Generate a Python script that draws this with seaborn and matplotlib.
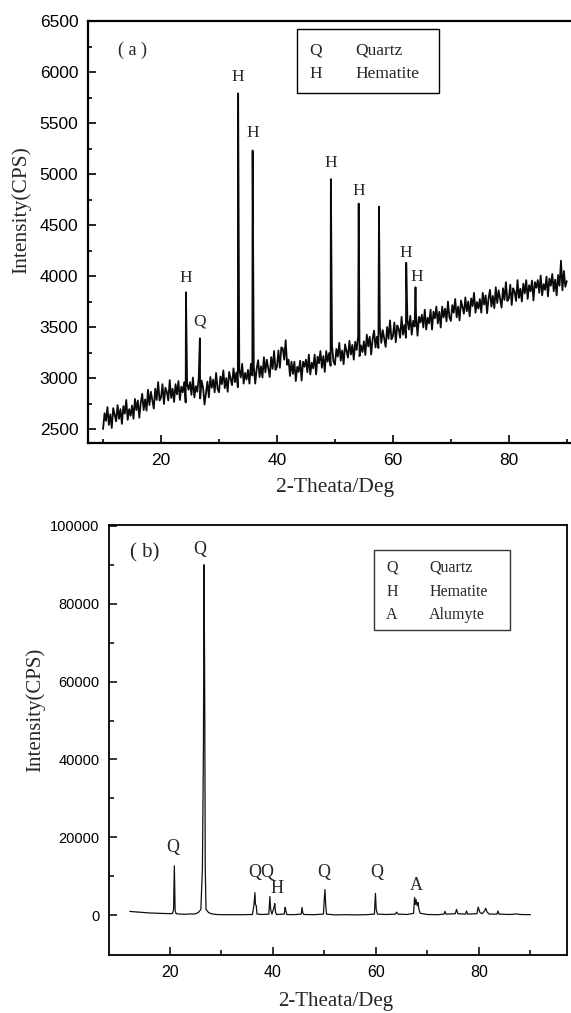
import numpy as np
import pandas as pd
import matplotlib.pyplot as plt
import seaborn as sns
from matplotlib.patches import Rectangle
from matplotlib.ticker import MultipleLocator, FixedLocator

# (a) noisy pattern, sampled every 0.25 deg from 10 to 90
two_theta_a = np.arange(10, 90.1, 0.25)
intensity_a = [
    2500, 2655, 2580, 2715, 2540, 2645, 2510, 2705, 2640, 2575, 2735, 2600, 2695, 2550, 2725, 2650, 2785, 2590, 2695, 2630,
    2730, 2600, 2795, 2685, 2780, 2610, 2755, 2845, 2685, 2790, 2680, 2885, 2735, 2865, 2780, 2700, 2895, 2785, 2960, 2780,
    2810, 2940, 2745, 2905, 2865, 2780, 2980, 2805, 2895, 2765, 2940, 2840, 2970, 2785, 2915, 2860, 2960, 2760, 2945, 2885,
    2960, 2835, 3005, 2810, 2920, 2865, 2995, 2800, 2975, 2905, 2740, 2850, 2965, 2810, 3010, 2905, 2985, 2860, 3050, 2895,
    2860, 3015, 2940, 3075, 2900, 3000, 2865, 3060, 2995, 2930, 3095, 2960, 3055, 2910, 3085, 3005, 3140, 2945, 3050, 2985,
    3080, 2945, 3140, 3025, 3120, 2945, 3090, 3175, 3010, 3115, 3005, 3205, 3055, 3180, 3095, 3010, 3205, 3090, 3265, 3080,
    3110, 3270, 3100, 3300, 3290, 3180, 3370, 3130, 3180, 3020, 3160, 3040, 3160, 2970, 3110, 3060, 3170, 2975, 3160, 3110,
    3180, 3055, 3230, 3035, 3150, 3095, 3230, 3035, 3210, 3145, 3265, 3100, 3215, 3060, 3265, 3160, 3245, 3120, 3315, 3160,
    3130, 3285, 3210, 3345, 3170, 3270, 3135, 3330, 3265, 3200, 3365, 3230, 3325, 3180, 3355, 3275, 3410, 3215, 3320, 3255,
    3360, 3225, 3425, 3310, 3405, 3230, 3380, 3465, 3300, 3405, 3295, 3500, 3345, 3470, 3390, 3305, 3500, 3385, 3565, 3380,
    3410, 3545, 3350, 3515, 3480, 3395, 3600, 3425, 3520, 3395, 3570, 3475, 3610, 3425, 3560, 3505, 3610, 3415, 3600, 3545,
    3620, 3495, 3670, 3475, 3590, 3535, 3670, 3475, 3650, 3585, 3700, 3535, 3650, 3495, 3700, 3595, 3680, 3555, 3750, 3595,
    3560, 3715, 3640, 3775, 3595, 3700, 3565, 3760, 3695, 3630, 3790, 3655, 3750, 3605, 3780, 3705, 3835, 3640, 3745, 3680,
    3775, 3640, 3835, 3720, 3810, 3635, 3780, 3865, 3700, 3805, 3685, 3890, 3735, 3860, 3775, 3690, 3880, 3765, 3940, 3755,
    3780, 3915, 3715, 3880, 3845, 3755, 3960, 3785, 3875, 3750, 3925, 3830, 3960, 3775, 3910, 3850, 3955, 3760, 3940, 3885,
    3960, 3835, 4005, 3810, 3920, 3865, 3995, 3800, 3975, 3905, 4020, 3850, 3965, 3810, 4010, 3905, 4150, 3860, 4050, 3895,
    3950,
]
peak_pos_a = [24.3, 26.7, 33.3, 35.8, 49.3, 54.1, 57.6, 62.3, 63.9]
peak_top_a = [3840, 3390, 5790, 5230, 4950, 4710, 4680, 4130, 3890]

label_a = ["H", "Q", "H", "H", "H", "H", "H", "H"]
label_x_a = [24.2, 26.7, 33.3, 35.8, 49.3, 54.1, 62.2, 64.1]
label_y_a = [3980, 3550, 5950, 5400, 5110, 4830, 4225, 3990]

# (b) pattern
two_theta_b = [
    12.2, 13, 14, 15, 16, 17, 18, 19, 20, 20.5, 20.7, 20.85, 21.0, 21.2,
    22, 23, 24, 24.5, 25, 25.5, 26.0, 26.3, 26.5, 26.62, 26.75, 26.85, 27.0,
    27.5, 28, 29, 30, 32, 34, 36, 36.3, 36.5, 36.6, 36.75, 36.9, 38, 39.2,
    39.4, 39.55, 39.8, 40.2, 40.35, 40.5, 40.7, 42.2, 42.35, 42.5, 42.7, 44,
    45.5, 45.65, 45.8, 46, 48, 49.8, 49.95, 50.1, 50.25, 50.4, 52, 54, 56,
    58, 59.7, 59.9, 60.05, 60.3, 62, 63.8, 64.0, 64.3, 66, 67.3, 67.5, 67.65,
    67.8, 68.0, 68.15, 68.35, 68.6, 70, 72, 73.2, 73.4, 73.6, 75.4, 75.65,
    75.9, 77.4, 77.6, 77.8, 79.6, 79.85, 80.2, 80.6, 81.1, 81.3, 81.6, 82,
    83.5, 83.7, 83.9, 86, 87.3, 88, 90,
]
intensity_b = [
    1000, 900, 800, 700, 600, 550, 500, 450, 420, 450, 1500, 12700, 1200, 400,
    300, 250, 350, 300, 400, 700, 1500, 12000, 43000, 90000, 57000, 12000, 1500,
    700, 400, 200, 150, 150, 150, 200, 2500, 5800, 2800, 2500, 300, 200, 300,
    4800, 1500, 300, 2000, 3000, 800, 200, 300, 2000, 1200, 200, 150,
    300, 2000, 600, 200, 150, 300, 3800, 6600, 2500, 300, 100, 150, 100,
    150, 300, 5600, 1500, 300, 200, 300, 800, 300, 200, 500, 4500, 2800,
    4000, 2500, 3300, 1500, 500, 200, 150, 300, 1000, 300, 400, 1500,
    400, 300, 1100, 300, 400, 2100, 700, 400, 1100, 1800, 800, 300,
    300, 1100, 300, 200, 350, 200, 150,
]
label_b = ["Q", "Q", "QQ", "H", "Q", "Q", "A"]
label_x_b = [20.5, 25.8, 37.8, 40.8, 49.8, 60.1, 67.9]
label_y_b = [17400, 93800, 11030, 6870, 11030, 11030, 7640]

phases_a = [("Q", "Quartz"), ("H", "Hematite")]
phases_b = [("Q", "Quartz"), ("H", "Hematite"), ("A", "Alumyte")]

sns.set_style("white")
plt.rcParams["font.family"] = ["Liberation Sans", "DejaVu Sans"]
serif = ["Liberation Serif", "DejaVu Serif"]

df_a = pd.DataFrame({"x": list(two_theta_a) + peak_pos_a,
                     "y": intensity_a + peak_top_a}).sort_values("x", kind="stable")
df_b = pd.DataFrame({"x": two_theta_b, "y": intensity_b})

fig = plt.figure(figsize=(5.71, 10.13), dpi=100)
ax1 = fig.add_axes([88 / 571, 1 - 443 / 1013, 484 / 571, 422 / 1013])
ax2 = fig.add_axes([109 / 571, 1 - 955 / 1013, 458 / 571, 430 / 1013])

sns.lineplot(data=df_a, x="x", y="y", ax=ax1, color="#0a0a0a", lw=1.3,
             estimator=None, sort=False)
sns.lineplot(data=df_b, x="x", y="y", ax=ax2, color="#111111", lw=0.9,
             estimator=None, sort=False)

# panel a axes
ax1.set_xlim(7.4, 90.9)
ax1.set_ylim(2363, 6500)
ax1.xaxis.set_major_locator(FixedLocator([20, 40, 60, 80]))
ax1.xaxis.set_minor_locator(FixedLocator([10, 30, 50, 70, 90]))
ax1.yaxis.set_major_locator(MultipleLocator(500))
ax1.yaxis.set_minor_locator(MultipleLocator(250))
ax1.tick_params(which="both", direction="in", left=True, bottom=True,
                colors="black", labelsize=12.5, width=1.2)
ax1.tick_params(which="major", length=6, pad=7)
ax1.tick_params(which="minor", length=2.8)
for s in ax1.spines.values():
    s.set_color("black")
    s.set_linewidth(1.6)
ax1.spines["right"].set_visible(False)
ax1.set_xlabel("2-Theata/Deg", fontsize=15.5, family=serif)
ax1.set_ylabel("Intensity(CPS)", fontsize=15.5, family=serif)
ax1.xaxis.set_label_coords(0.51, -0.083)
ax1.yaxis.set_label_coords(-0.118, 0.552)
for t, x, y in zip(label_a, label_x_a, label_y_a):
    ax1.text(x, y, t, ha="center", va="center", fontsize=12.5, family=serif)
ax1.text(15, 6216, "( a )", ha="center", va="center", fontsize=13, family=serif)
ax1.add_patch(Rectangle((0.432, 0.829), 0.293, 0.152, transform=ax1.transAxes,
                        fill=False, ec="black", lw=1.0))
for i, (k, name) in enumerate(phases_a):
    yy = 0.931 - i * 0.057
    ax1.text(0.471, yy, k, transform=ax1.transAxes, ha="center", va="center",
             fontsize=12.5, family=serif)
    ax1.text(0.552, yy, name, transform=ax1.transAxes, ha="left", va="center",
             fontsize=12.5, family=serif)

# panel b axes
ax2.set_xlim(8.16, 97.1)
ax2.set_ylim(-10200, 100200)
ax2.xaxis.set_major_locator(FixedLocator([20, 40, 60, 80]))
ax2.xaxis.set_minor_locator(FixedLocator([30, 50, 70, 90]))
ax2.yaxis.set_major_locator(MultipleLocator(20000))
ax2.yaxis.set_minor_locator(FixedLocator(list(range(10000, 100000, 20000))))
ax2.tick_params(which="both", direction="in", left=True, bottom=True,
                colors="black", width=1.1)
ax2.tick_params(axis="x", labelsize=11.5)
ax2.tick_params(axis="y", labelsize=10.5)
ax2.tick_params(which="major", length=6, pad=7)
ax2.tick_params(which="minor", length=3.5)
for s in ax2.spines.values():
    s.set_color("black")
    s.set_linewidth(1.3)
ax2.set_xlabel("2-Theata/Deg", fontsize=15, family=serif)
ax2.set_ylabel("Intensity(CPS)", fontsize=15, family=serif)
ax2.xaxis.set_label_coords(0.496, -0.086)
ax2.yaxis.set_label_coords(-0.14, 0.57)
for t, x, y in zip(label_b, label_x_b, label_y_b):
    ax2.text(x, y, t, ha="center", va="center", fontsize=13, family=serif)
ax2.text(15.1, 93000, "( b)", ha="center", va="center", fontsize=15, family=serif)
ax2.add_patch(Rectangle((0.579, 0.756), 0.297, 0.186, transform=ax2.transAxes,
                        fill=False, ec="#333333", lw=1.0))
for i, (k, name) in enumerate(phases_b):
    yy = 0.9 - i * 0.055
    ax2.text(0.618, yy, k, transform=ax2.transAxes, ha="center", va="center",
             fontsize=11.5, family=serif)
    ax2.text(0.699, yy, name, transform=ax2.transAxes, ha="left", va="center",
             fontsize=11.5, family=serif)

fig.savefig("out.png", dpi=100)
